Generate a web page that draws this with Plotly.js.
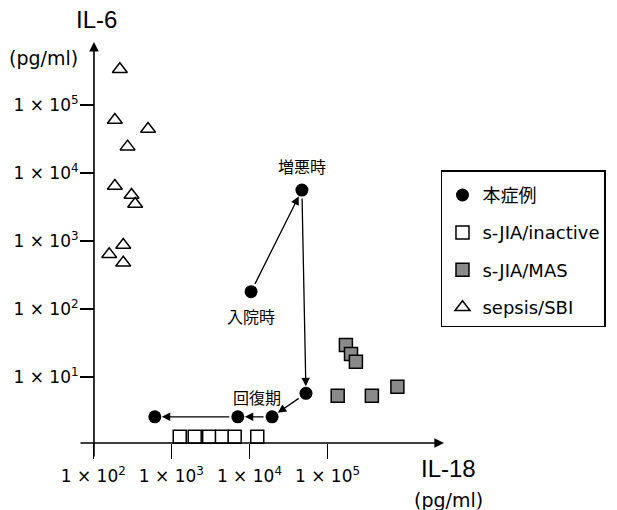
<!DOCTYPE html>
<html>
<head>
<meta charset="utf-8">
<script src="https://cdn.plot.ly/plotly-3.0.1.min.js"></script>
<style>html,body{margin:0;padding:0;background:#fff;}#chart{width:617px;height:510px;}</style>
</head>
<body>
<div id="chart"></div>
<script>
// Data (IL-18 pg/ml on x, IL-6 pg/ml on y)
var caseX = [10500, 47000, 53000, 19500, 7100, 614];
var caseY = [180, 5600, 5.75, 2.6, 2.6, 2.6];
var caseLabels = ["入院時", "増悪時", "", "", "回復期", ""];

var inactiveX = [1280, 1990, 3050, 4450, 6470, 12600];
var inactiveY = [1.32, 1.32, 1.32, 1.32, 1.32, 1.32];

var masX = [172000, 200000, 231000, 135000, 370000, 785000];
var masY = [29.6, 21.8, 16.8, 5.3, 5.3, 7.2];

var sepsisX = [219, 189, 503, 275, 189, 309, 344, 242, 160, 242];
var sepsisY = [335000, 60000, 44400, 24400, 6440, 4750, 3500, 873, 637, 480];

var xTickVals = [1e2, 1e3, 1e4, 1e5];
var xTickText = ["1 × 10<sup>2</sup>", "1 × 10<sup>3</sup>", "1 × 10<sup>4</sup>", "1 × 10<sup>5</sup>"];
var yTickVals = [1e1, 1e2, 1e3, 1e4, 1e5];
var yTickText = ["1 × 10<sup>1</sup>", "1 × 10<sup>2</sup>", "1 × 10<sup>3</sup>", "1 × 10<sup>4</sup>", "1 × 10<sup>5</sup>"];

var seriesNames = ["本症例", "s-JIA/inactive", "s-JIA/MAS", "sepsis/SBI"];

var FONT = "DejaVu Sans, Noto Sans CJK JP, sans-serif";
var JFONT = "Noto Sans CJK JP, sans-serif";
var TFONT = "Liberation Sans, Arial, sans-serif";

var traces = [
  {x: caseX, y: caseY, name: seriesNames[0], type: "scatter", mode: "markers", legendgroup: "a",
   marker: {symbol: "circle", size: 13, color: "#000"}},
  {x: inactiveX, y: inactiveY, name: seriesNames[1], type: "scatter", mode: "markers", legendgroup: "b",
   marker: {symbol: "square", size: 13, color: "#fff", line: {color: "#000", width: 1.5}}},
  {x: masX, y: masY, name: seriesNames[2], type: "scatter", mode: "markers", legendgroup: "c",
   marker: {symbol: "square", size: 13, color: "#8a8a8a", line: {color: "#000", width: 1.5}}},
  {x: sepsisX, y: sepsisY, name: seriesNames[3], type: "scatter", mode: "markers", legendgroup: "d",
   marker: {symbol: "triangle-up-open", size: 13, color: "#000", line: {color: "#000", width: 1.5}}}
];

var annotations = [];
// trajectory arrows between consecutive case points
for (var i = 0; i < caseX.length - 1; i++) {
  annotations.push({
    x: Math.log10(caseX[i + 1]), y: Math.log10(caseY[i + 1]),
    ax: Math.log10(caseX[i]), ay: Math.log10(caseY[i]),
    xref: "x", yref: "y", axref: "x", ayref: "y",
    text: "", showarrow: true, arrowhead: 2, arrowsize: 1.3, arrowwidth: 1.3,
    arrowcolor: "#000", standoff: 7, startstandoff: 7
  });
}
// point labels
var labelShift = {0: [0, -24], 1: [0, 24], 4: [19, 20]};
for (var j = 0; j < caseLabels.length; j++) {
  if (!caseLabels[j]) continue;
  annotations.push({
    x: Math.log10(caseX[j]), y: Math.log10(caseY[j]), xref: "x", yref: "y",
    text: caseLabels[j], showarrow: false, xanchor: "center", yanchor: "middle",
    xshift: labelShift[j][0], yshift: labelShift[j][1],
    font: {family: JFONT, size: 16, color: "#000"}
  });
}
// axis lines with arrowheads
annotations.push({
  x: 1.0, y: 0.0361, xref: "paper", yref: "paper", ax: -365, ay: 0,
  text: "", showarrow: true, arrowhead: 2, arrowsize: 1.2, arrowwidth: 1.6, arrowcolor: "#000"
});
annotations.push({
  x: 0.0384, y: 1.0, xref: "paper", yref: "paper", ax: 0, ay: 416,
  text: "", showarrow: true, arrowhead: 2, arrowsize: 1.2, arrowwidth: 1.6, arrowcolor: "#000"
});
// axis titles
annotations.push({x: 0.0458, y: 1.053, xref: "paper", yref: "paper", text: "IL-6", showarrow: false,
  xanchor: "center", yanchor: "middle", font: {family: TFONT, size: 24, color: "#000"}});
annotations.push({x: -0.100, y: 0.962, xref: "paper", yref: "paper", text: "(pg/ml)", showarrow: false,
  xanchor: "center", yanchor: "middle", font: {family: FONT, size: 19, color: "#000"}});
annotations.push({x: 1.0137, y: -0.0264, xref: "paper", yref: "paper", text: "IL-18", showarrow: false,
  xanchor: "center", yanchor: "middle", font: {family: TFONT, size: 24, color: "#000"}});
annotations.push({x: 1.0137, y: -0.101, xref: "paper", yref: "paper", text: "(pg/ml)", showarrow: false,
  xanchor: "center", yanchor: "middle", font: {family: FONT, size: 19, color: "#000"}});

var layout = {
  width: 617, height: 510,
  margin: {l: 80, r: 172, t: 42, b: 52, pad: 0},
  paper_bgcolor: "#fff", plot_bgcolor: "rgba(0,0,0,0)",
  showlegend: true,
  font: {family: FONT, color: "#000"},
  xaxis: {
    type: "log", range: [1.830, 6.492], showgrid: false, zeroline: false, showline: false,
    tickmode: "array", tickvals: xTickVals, ticktext: xTickText,
    ticks: "outside", ticklen: 15, tickwidth: 1.3, tickcolor: "#000",
    anchor: "free", position: 0.0361, ticklabelstandoff: 3,
    tickfont: {family: FONT, size: 17, color: "#000"}, fixedrange: true
  },
  yaxis: {
    type: "log", range: [-0.191, 5.926], showgrid: false, zeroline: false, showline: false,
    tickmode: "array", tickvals: yTickVals, ticktext: yTickText,
    ticks: "outside", ticklen: 14, tickwidth: 1.3, tickcolor: "#000",
    anchor: "free", position: 0.0384, ticklabelstandoff: -2,
    tickfont: {family: FONT, size: 17, color: "#000"}, fixedrange: true
  },
  legend: {
    x: 0.989, y: 0.692, xanchor: "left", yanchor: "top",
    bordercolor: "#000", borderwidth: 1.5, bgcolor: "#fff",
    font: {family: FONT, size: 18, color: "#000"},
    title: {text: " ", font: {size: 4}},
    tracegroupgap: 11
  },
  annotations: annotations
};

Plotly.newPlot("chart", traces, layout, {displayModeBar: false, staticPlot: true});
</script>
</body>
</html>
